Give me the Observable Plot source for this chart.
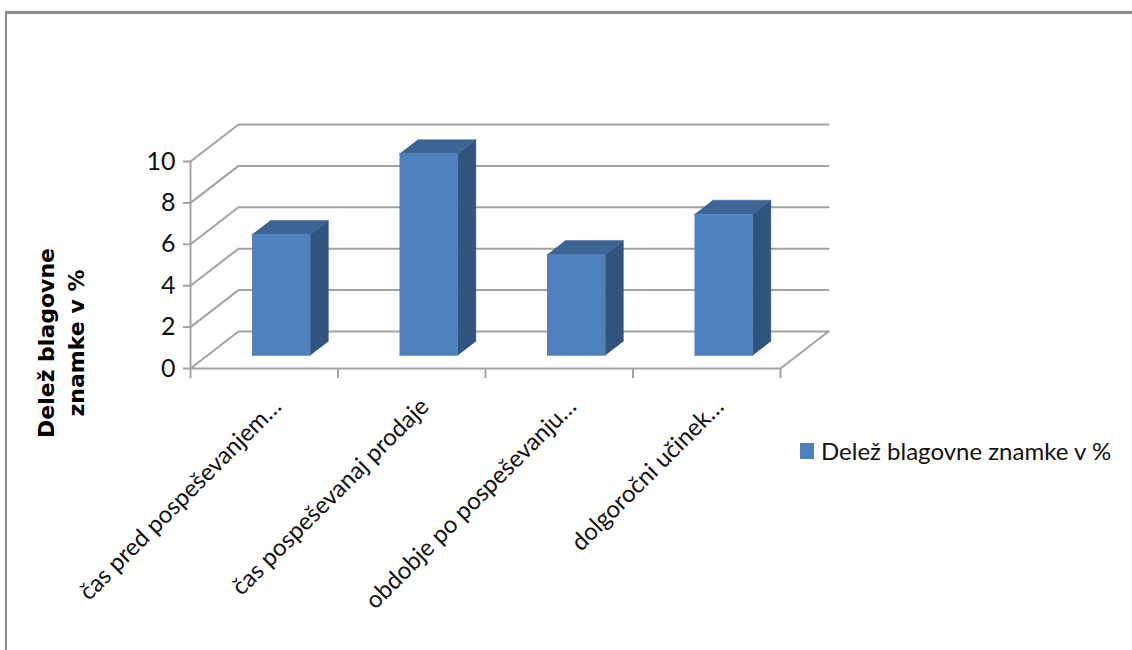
<!DOCTYPE html>
<html>
<head>
<meta charset="utf-8">
<script src="https://cdn.jsdelivr.net/npm/d3@7"></script>
<script src="https://cdn.jsdelivr.net/npm/@observablehq/plot@0.6"></script>
<style>
  html, body { margin: 0; padding: 0; background: #fff; overflow: hidden; }
  #wrap { position: relative; width: 1132px; height: 650px; }
  #frame { position: absolute; left: 5px; top: 11px; width: 1200px; height: 700px;
           border-top: 3px solid #8c8c8c; border-left: 2px solid #8c8c8c; }
  #chart { position: absolute; left: 0; top: 0; }
  #legend { position: absolute; left: 800px; top: 436px; font-family: Lato, sans-serif;
            font-size: 24px; color: #111; display: flex; align-items: center; gap: 7px; }
  #legend .sw { width: 14px; height: 16px; background: #4F81BD; }
</style>
</head>
<body>
<div id="wrap">
  <div id="frame"></div>
  <div id="chart"></div>
  <div id="legend"><span class="sw"></span><span id="legtext"></span></div>
</div>
<script>
// ---- data ----
const categories = ["čas pred pospeševanjem…", "čas pospeševanaj prodaje", "obdobje po pospeševanju…", "dolgoročni učinek…"];
const values = [6, 10, 5, 7];
const yTicks = [0, 2, 4, 6, 8, 10];
const seriesName = "Delež blagovne znamke v %";
const axisTitleLines = ["Delež blagovne", "znamke v %"];

// ---- oblique 3D projection (depth expressed in data units) ----
const KX = 48 / 147.5;   // x-units per unit of depth
const KY = 37 / 20.7;    // y-units per unit of depth
const P = (x, y, d) => ({x: x + d * KX, y: y + d * KY});
const nCat = categories.length;
const yMax = yTicks[yTicks.length - 1];
const D0 = 0.35, D1 = 0.73, W = 0.394, PERSP = 0.975;

// back-wall gridlines + side-wall diagonals
const gridPts = yTicks.flatMap(v => [P(0, v, 0), P(0, v, 1), P(nCat, v, 1)].map(p => ({...p, z: v})));
// floor front + right edge
const floorPts = [P(0, 0, 0), P(nCat, 0, 0), P(nCat, 0, 1)];

const frontFaces = [], topFaces = [], sideFaces = [];
values.forEach((v, i) => {
  const a = i + 0.5 - W / 2, b = i + 0.5 + W / 2, h = v * PERSP;
  [P(a, 0, D0), P(b, 0, D0), P(b, h, D0), P(a, h, D0)].forEach(p => frontFaces.push({...p, z: i}));
  [P(a, h, D0), P(b, h, D0), P(b, h, D1), P(a, h, D1)].forEach(p => topFaces.push({...p, z: i}));
  [P(b, 0, D0), P(b, h, D0), P(b, h, D1), P(b, 0, D1)].forEach(p => sideFaces.push({...p, z: i}));
});

const gridColor = "#a3a3a3";

const chart = Plot.plot({
  width: 1132,
  height: 650,
  marginLeft: 190,
  marginRight: 352,
  marginTop: 161,
  marginBottom: 282,
  x: {domain: [0, nCat]},
  y: {domain: [0, yMax]},
  style: {fontFamily: "Lato, sans-serif", fontSize: "24px", color: "#111", background: "transparent", overflow: "visible"},
  marks: [
    Plot.line(gridPts, {x: "x", y: "y", z: "z", stroke: gridColor, strokeWidth: 2}),
    Plot.line(floorPts, {x: "x", y: "y", stroke: gridColor, strokeWidth: 2}),
    Plot.ruleX([0], {y1: 0, y2: yMax, stroke: gridColor, strokeWidth: 2}),
    Plot.axisY(yTicks, {tickSize: 7, tickPadding: 8, stroke: gridColor, strokeWidth: 2, fill: "#111", fontSize: 25, label: null}),
    Plot.axisX(d3.range(nCat + 1), {tickSize: 10, tickFormat: () => "", stroke: gridColor, strokeWidth: 2, label: null}),
    Plot.line(sideFaces, {x: "x", y: "y", z: "z", fill: "#31547F", stroke: "#31547F", strokeWidth: 0.5}),
    Plot.line(topFaces, {x: "x", y: "y", z: "z", fill: "#3C6494", stroke: "#3C6494", strokeWidth: 0.5}),
    Plot.line(frontFaces, {x: "x", y: "y", z: "z", fill: "#4F81BD", stroke: "#4F81BD", strokeWidth: 0.5}),
    Plot.text(categories, {x: (d, i) => i + 0.5, y: 0, rotate: -45, textAnchor: "end", lineAnchor: "middle",
                           dx: 13, dy: 34, fontSize: 24, fill: "#111"}),
    Plot.text([axisTitleLines.join("\n")], {frameAnchor: "left", dx: -131, dy: 78, rotate: -90,
                           textAnchor: "middle", lineAnchor: "middle", lineHeight: 1.35,
                           fontFamily: "DejaVu Sans", fontWeight: "bold", fontSize: 22, fill: "#000"})
  ]
});
document.getElementById("chart").appendChild(chart);
document.getElementById("legtext").textContent = seriesName;
</script>
</body>
</html>
